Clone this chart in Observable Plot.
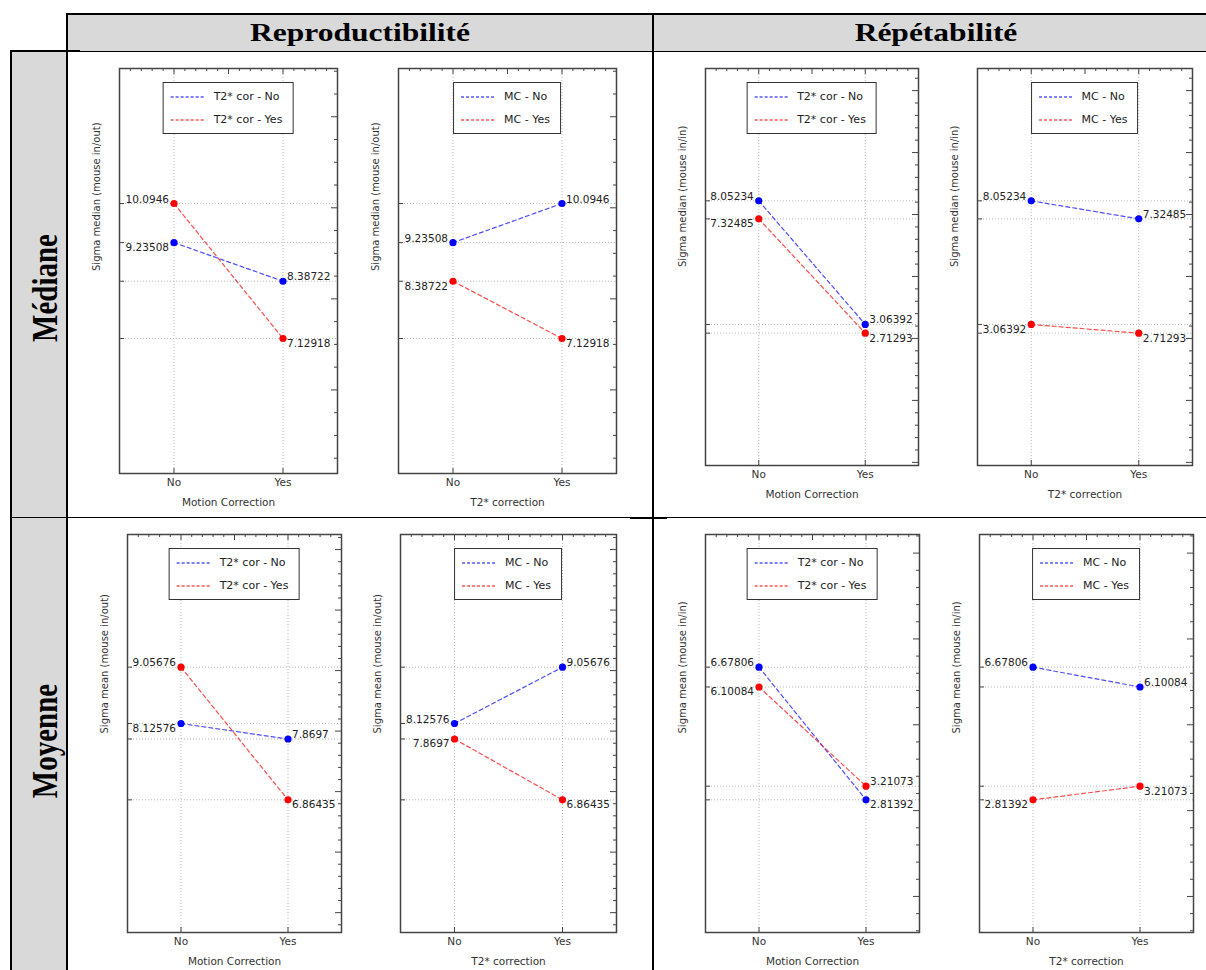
<!DOCTYPE html>
<html>
<head>
<meta charset="utf-8">
<script src="https://cdn.jsdelivr.net/npm/d3@7"></script>
<script src="https://cdn.jsdelivr.net/npm/@observablehq/plot@0.6"></script>
<style>
  html, body { margin: 0; padding: 0; background: #fff; overflow: hidden; }
  #page { position: relative; width: 1206px; height: 970px; overflow: hidden; font-family: "DejaVu Sans", sans-serif; }
  .blk { position: absolute; }
  .gray { background: #d9d9d9; }
  .line { background: #000; }
  .hdr { position: absolute; font-family: "Liberation Serif", "Times New Roman", serif; font-weight: bold; white-space: nowrap; color: #000; }
  .panel { position: absolute; }
  .panel svg { display: block; overflow: visible; }
  .legend { position: absolute; transform: translateX(-50%); border: 1.5px solid #333; background: #fff; padding: 2px 10px 2px 7px; font: 11px "DejaVu Sans", sans-serif; color: #222; white-space: nowrap; }
  .legend .row { display: flex; align-items: center; height: 23px; }
  .legend svg { margin-right: 8px; }
</style>
</head>
<body>
<div id="page"></div>
<script>
// ---------------- data ----------------
const levels = ["No", "Yes"];
// values at Motion Correction = [No, Yes]
const reproMedianT2No  = [9.23508, 8.38722];
const reproMedianT2Yes = [10.0946, 7.12918];
const repetMedianT2No  = [8.05234, 3.06392];
const repetMedianT2Yes = [7.32485, 2.71293];
const reproMeanT2No    = [8.12576, 7.8697];
const reproMeanT2Yes   = [9.05676, 6.86435];
const repetMeanT2No    = [6.67806, 2.81392];
const repetMeanT2Yes   = [6.10084, 3.21073];

const columnTitles = ["Reproductibilité", "Répétabilité"];
const rowTitles = ["Médiane", "Moyenne"];
const yTitles = ["Sigma median (mouse in/out)", "Sigma median (mouse in/in)", "Sigma mean (mouse in/out)", "Sigma mean (mouse in/in)"];
const xTitles = ["Motion Correction", "T2* correction"];
const t2Series = ["T2* cor - No", "T2* cor - Yes"];
const mcSeries = ["MC - No", "MC - Yes"];

// ---------------- styles / layout ----------------
const seriesColors = ["#0000ff", "#ff0000"];
const M = {left: 45, right: 12, top: 8, bottom: 44};

const panels = [
  {noT2: reproMedianT2No, yesT2: reproMedianT2Yes, byT2: false, yTitle: yTitles[0], frame: [119, 68, 218, 405], major: 2, minor: 0.5},
  {noT2: reproMedianT2No, yesT2: reproMedianT2Yes, byT2: true,  yTitle: yTitles[0], frame: [398, 68, 218, 405], major: 2, minor: 0.5},
  {noT2: repetMedianT2No, yesT2: repetMedianT2Yes, byT2: false, yTitle: yTitles[1], frame: [705, 68, 213, 397], major: 2.5, minor: 0.5},
  {noT2: repetMedianT2No, yesT2: repetMedianT2Yes, byT2: true,  yTitle: yTitles[1], frame: [977, 68, 215, 397], major: 2.5, minor: 0.5},
  {noT2: reproMeanT2No, yesT2: reproMeanT2Yes, byT2: false, yTitle: yTitles[2], frame: [127, 534, 214, 398], major: 1, minor: 0.2},
  {noT2: reproMeanT2No, yesT2: reproMeanT2Yes, byT2: true,  yTitle: yTitles[2], frame: [400, 534, 216, 398], major: 1, minor: 0.2},
  {noT2: repetMeanT2No, yesT2: repetMeanT2Yes, byT2: false, yTitle: yTitles[3], frame: [705, 534, 214, 398], major: 2.5, minor: 0.5},
  {noT2: repetMeanT2No, yesT2: repetMeanT2Yes, byT2: true,  yTitle: yTitles[3], frame: [979, 534, 214, 398], major: 2.5, minor: 0.5}
];

const page = document.getElementById("page");
function addDiv(cls, css, text) {
  const d = document.createElement("div");
  d.className = cls;
  d.style.cssText = css;
  if (text != null) d.textContent = text;
  page.appendChild(d);
  return d;
}

// ---------------- table ----------------
addDiv("blk gray", "left:67px;top:13px;width:1139px;height:38px;");
addDiv("blk gray", "left:11px;top:51px;width:56px;height:919px;");
addDiv("blk line", "left:66px;top:13px;width:1140px;height:2px;");
addDiv("blk line", "left:67px;top:51px;width:1139px;height:1px;");
addDiv("blk line", "left:10px;top:50px;width:70px;height:2px;");
addDiv("blk line", "left:10px;top:50px;width:2px;height:920px;");
addDiv("blk line", "left:66px;top:13px;width:2px;height:957px;");
addDiv("blk line", "left:652px;top:13px;width:2px;height:957px;");
addDiv("blk line", "left:10px;top:517px;width:1196px;height:1px;");
addDiv("blk line", "left:630px;top:517px;width:37px;height:2px;");

const hdrCenters = [360, 936];
columnTitles.forEach((t, i) => {
  addDiv("hdr", `left:${hdrCenters[i]}px;top:20px;font-size:25px;line-height:25px;transform:translateX(-50%) scaleX(1.26);`, t);
});
const rowCenters = [288, 741];
rowTitles.forEach((t, i) => {
  addDiv("hdr", `left:45px;top:${rowCenters[i]}px;font-size:29px;line-height:29px;transform:translate(-50%,-50%) scaleX(1.22) rotate(-90deg);transform-origin:50% 50%;`, t);
});

// ---------------- helpers ----------------
function stepTicks(lo, hi, step) {
  const out = [];
  for (let k = Math.ceil(lo / step - 1e-9); k * step <= hi + 1e-9; k++) out.push(+(k * step).toFixed(6));
  return out;
}
const isMultiple = (v, s) => Math.abs(v / s - Math.round(v / s)) < 1e-6;

function rowsFor(p) {
  const cell = (mc, t2) => (t2 ? p.yesT2 : p.noT2)[mc];
  const names = p.byT2 ? mcSeries : t2Series;
  const rows = [];
  for (let s = 0; s < 2; s++) for (let xi = 0; xi < 2; xi++) {
    const value = p.byT2 ? cell(s, xi) : cell(xi, s);
    rows.push({series: names[s], s, xi, value});
  }
  for (const r of rows) {
    const other = rows.find(o => o.xi === r.xi && o !== r);
    r.above = r.value > other.value;
  }
  return {rows, names};
}

// ---------------- panels ----------------
panels.forEach(p => {
  const [fx, fy, fw, fh] = p.frame;
  const {rows, names} = rowsFor(p);
  const values = rows.map(r => r.value);
  const vmin = d3.min(values), vmax = d3.max(values), span = vmax - vmin;
  const lo = vmin - span, hi = vmax + span;
  const rightTicks = stepTicks(lo, hi, p.minor);
  const rightMajor = rightTicks.filter(v => isMultiple(v, p.major));
  const rightMinor = rightTicks.filter(v => !isMultiple(v, p.major));
  const topTicks = stepTicks(-0.5, 1.5, 0.1);
  const topMajor = topTicks.filter(v => isMultiple(v, 0.5));
  const topMinor = topTicks.filter(v => !isMultiple(v, 0.5));
  const grid = {stroke: "#b8b8b8", strokeDasharray: "1,2", strokeWidth: 1};
  const tick = {stroke: "#444", strokeWidth: 1};
  const label = (xi, above) => Plot.text(rows.filter(r => r.xi === xi && r.above === above), {
    x: "xi", y: "value", text: r => String(r.value),
    textAnchor: xi === 0 ? "end" : "start",
    lineAnchor: above ? "bottom" : "top",
    dx: xi === 0 ? -5 : 4, dy: above ? -1 : 1,
    fontSize: 10.5, fill: "#222"
  });

  const plot = Plot.plot({
    width: fw + M.left + M.right,
    height: fh + M.top + M.bottom,
    marginLeft: M.left, marginRight: M.right, marginTop: M.top, marginBottom: M.bottom,
    style: {fontFamily: "DejaVu Sans, sans-serif", fontSize: "10.5px", background: "transparent", color: "#333", overflow: "visible"},
    x: {domain: [-0.5, 1.5], axis: null},
    y: {domain: [lo, hi], axis: null},
    color: {domain: names, range: seriesColors},
    marks: [
      Plot.ruleY(values, {y: d => d, ...grid}),
      Plot.ruleX([0, 1], {x: d => d, ...grid}),
      Plot.ruleX(topMinor, {x: d => d, insetBottom: fh - 3, ...tick}),
      Plot.ruleX(topMajor, {x: d => d, insetBottom: fh - 6, ...tick}),
      Plot.ruleX([0, 1], {x: d => d, insetTop: fh - 5, ...tick}),
      Plot.ruleY(rightMinor, {y: d => d, insetLeft: fw - 3, ...tick}),
      Plot.ruleY(rightMajor, {y: d => d, insetLeft: fw - 6, ...tick}),
      Plot.ruleY(values, {y: d => d, insetRight: fw - 5, ...tick}),
      Plot.frame({stroke: "#444", strokeWidth: 1.5}),
      Plot.line(rows, {x: "xi", y: "value", z: "series", stroke: "series", strokeWidth: 1.2, strokeOpacity: 0.7, strokeDasharray: "4,3"}),
      Plot.dot(rows, {x: "xi", y: "value", fill: "series", r: 3.6}),
      label(0, true), label(0, false), label(1, true), label(1, false),
      Plot.axisX([0, 1], {tickFormat: i => levels[i], tickSize: 0, tickPadding: 5, label: null, fontSize: 10.5, fill: "#333"}),
      Plot.text([p.byT2 ? xTitles[1] : xTitles[0]], {frameAnchor: "bottom", dy: 29, lineAnchor: "middle", fontSize: 10.5, fill: "#333"}),
      Plot.text([p.yTitle], {frameAnchor: "left", rotate: -90, dx: -23, lineAnchor: "middle", fontSize: 10, fill: "#333"})
    ]
  });

  const wrap = document.createElement("div");
  wrap.className = "panel";
  wrap.style.left = (fx - M.left) + "px";
  wrap.style.top = (fy - M.top) + "px";
  wrap.appendChild(plot);

  // legend built from the plot's own colour scale
  const color = plot.scale("color");
  const lg = document.createElement("div");
  lg.className = "legend";
  lg.style.left = (M.left + fw / 2) + "px";
  lg.style.top = (M.top + 14) + "px";
  color.domain.forEach((name, i) => {
    const row = document.createElement("div");
    row.className = "row";
    row.innerHTML = `<svg width="35" height="4"><line x1="0" y1="2" x2="35" y2="2" stroke="${color.range[i]}" stroke-width="1.2" stroke-dasharray="3,2"/></svg><span>${name}</span>`;
    lg.appendChild(row);
  });
  wrap.appendChild(lg);
  page.appendChild(wrap);
});
</script>
</body>
</html>
